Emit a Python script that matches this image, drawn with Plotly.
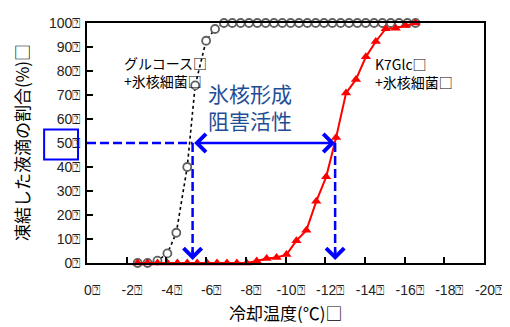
import plotly.graph_objects as go

# ---- data ----
glc_temp = [-2.55, -3.05, -3.55, -4.05, -4.5, -5.05, -5.45, -6.0, -6.45, -6.9,
            -7.32, -7.74, -8.16, -8.58, -9.0, -9.42, -9.84, -10.26, -10.68, -11.1,
            -11.52, -11.94, -12.36, -12.78, -13.2, -13.62, -14.04, -14.46, -14.88,
            -15.3, -15.72, -16.14, -16.55]
glc_frozen = [0, 0, 1, 4, 12.6, 40, 74, 92.6, 97.5, 100,
              100, 100, 100, 100, 100, 100, 100, 100, 100, 100,
              100, 100, 100, 100, 100, 100, 100, 100, 100,
              100, 100, 100, 100]

k7_temp = [-2.55, -3.05, -3.55, -4.05, -4.55, -5.05, -5.55, -6.05, -6.55, -7.05,
           -7.55, -8.05, -8.55, -9.05, -9.55, -10.05, -10.55, -11.05, -11.55, -12.05,
           -12.55, -13.05, -13.55, -14.05, -14.55, -15.05, -15.55, -16.05, -16.55]
k7_frozen = [0, 0, 0, 0, 0, 0, 0, 0, 0, 0,
             0, 0, 0.8, 1.9, 2.3, 3.5, 9.3, 13.6, 25.7, 35.9,
             52.3, 70.8, 76.5, 85.9, 92.3, 97.6, 97.8, 99, 100]

x_ticks = [0, -2, -4, -6, -8, -10, -12, -14, -16, -18, -20]
y_ticks = [0, 10, 20, 30, 40, 50, 60, 70, 80, 90, 100]
TOFU = "\u2370"
x_ticktext = [f"{v}{TOFU}" for v in x_ticks]
y_ticktext = [f"{v}{TOFU}" for v in y_ticks]

x_title = "冷却温度(℃)□"
y_title = "凍結した液滴の割合(%)□"
label_glc = "グルコース□<br>+氷核細菌□"
label_k7 = "K7Glc□<br>+氷核細菌□"
label_activity = "氷核形成<br>阻害活性"

half_point = 50
glc_t50 = -5.32
k7_t50 = -12.5

FONT = "Liberation Sans, Arial, Noto Sans CJK JP, sans-serif"
JFONT = "Noto Sans CJK JP, sans-serif"
BLUE = "#0000FF"

fig = go.Figure()
fig.add_trace(go.Scatter(
    x=glc_temp, y=glc_frozen, mode="lines+markers",
    line=dict(color="black", width=1.6, dash="dot"),
    marker=dict(symbol="circle", size=8, color="white",
                line=dict(color="#606060", width=1.8)),
    cliponaxis=False, showlegend=False))
fig.add_trace(go.Scatter(
    x=k7_temp, y=k7_frozen, mode="lines+markers",
    line=dict(color="#FF0000", width=2),
    marker=dict(symbol="triangle-up", size=9, color="#FF0000"),
    cliponaxis=False, showlegend=False))

# dashed guide lines
dash = "9px,4px"
fig.add_shape(type="line", x0=0, x1=glc_t50, y0=half_point, y1=half_point,
              line=dict(color=BLUE, width=2.5, dash=dash))
fig.add_shape(type="line", x0=glc_t50, x1=glc_t50, y0=half_point, y1=4,
              line=dict(color=BLUE, width=2.5, dash=dash))
fig.add_shape(type="line", x0=k7_t50, x1=k7_t50, y0=half_point, y1=4,
              line=dict(color=BLUE, width=2.5, dash=dash))
# box around 50 label
fig.add_shape(type="rect", xref="x domain", yref="y",
              x0=-0.108, x1=-0.0226, y0=43.1, y1=55.6,
              line=dict(color=BLUE, width=2))

# arrowheads
for t in (glc_t50, k7_t50):
    fig.add_annotation(x=t, y=1.2, ax=t, ay=6, xref="x", yref="y",
                       axref="x", ayref="y", text="", showarrow=True,
                       arrowhead=4, arrowsize=1.4, arrowwidth=2.5,
                       arrowcolor=BLUE)
fig.add_annotation(x=k7_t50, y=half_point, ax=glc_t50, ay=half_point,
                   xref="x", yref="y", axref="x", ayref="y", text="",
                   showarrow=True, arrowside="end+start",
                   arrowhead=4, startarrowhead=4, arrowsize=1.4,
                   startarrowsize=1.4, arrowwidth=2.5, arrowcolor=BLUE)

# text labels
fig.add_annotation(x=0.088, y=0.794, xref="paper", yref="paper",
                   text=label_glc, showarrow=False, xanchor="left",
                   yanchor="middle", align="left",
                   font=dict(family=JFONT, size=14, color="black"))
fig.add_annotation(x=0.721, y=0.792, xref="paper", yref="paper",
                   text=label_k7, showarrow=False, xanchor="left",
                   yanchor="middle", align="left",
                   font=dict(family=JFONT, size=14, color="black"))
fig.add_annotation(x=0.300, y=0.651, xref="paper", yref="paper",
                   text=label_activity, showarrow=False, xanchor="left",
                   yanchor="middle", align="left",
                   font=dict(family=JFONT, size=21, color="#1F4E96"))
# axis titles
fig.add_annotation(x=0.5, y=-0.208, xref="paper", yref="paper",
                   text=x_title, showarrow=False, xanchor="center",
                   yanchor="middle",
                   font=dict(family=JFONT, size=17, color="black"))
fig.add_annotation(x=-0.166, y=0.5, xref="paper", yref="paper",
                   text=y_title, showarrow=False, xanchor="center",
                   yanchor="middle", textangle=-90,
                   font=dict(family=JFONT, size=17, color="black"))

fig.update_xaxes(range=[0, -20], tickvals=x_ticks, ticktext=x_ticktext,
                 ticks="inside", ticklen=6, tickwidth=1.5, tickcolor="black",
                 showline=True, linecolor="black", linewidth=1.8, mirror=True,
                 showgrid=False, zeroline=False, ticklabelstandoff=13,
                 ticklabelshift=-5,
                 tickfont=dict(family=FONT, size=14, color="#222"))
fig.update_yaxes(range=[0, 100], tickvals=y_ticks, ticktext=y_ticktext,
                 ticks="inside", ticklen=6, tickwidth=1.5, tickcolor="black",
                 showline=True, linecolor="black", linewidth=1.8, mirror=True,
                 showgrid=False, zeroline=False, ticklabelstandoff=2,
                 tickfont=dict(family=FONT, size=14, color="#222"))

# the page body adds an 8px offset, so the figure is drawn 8px smaller
fig.update_layout(width=502, height=319, plot_bgcolor="white",
                  paper_bgcolor="white",
                  margin=dict(l=79, r=25, t=7, b=64),
                  showlegend=False)
fig.write_html("out.html")
